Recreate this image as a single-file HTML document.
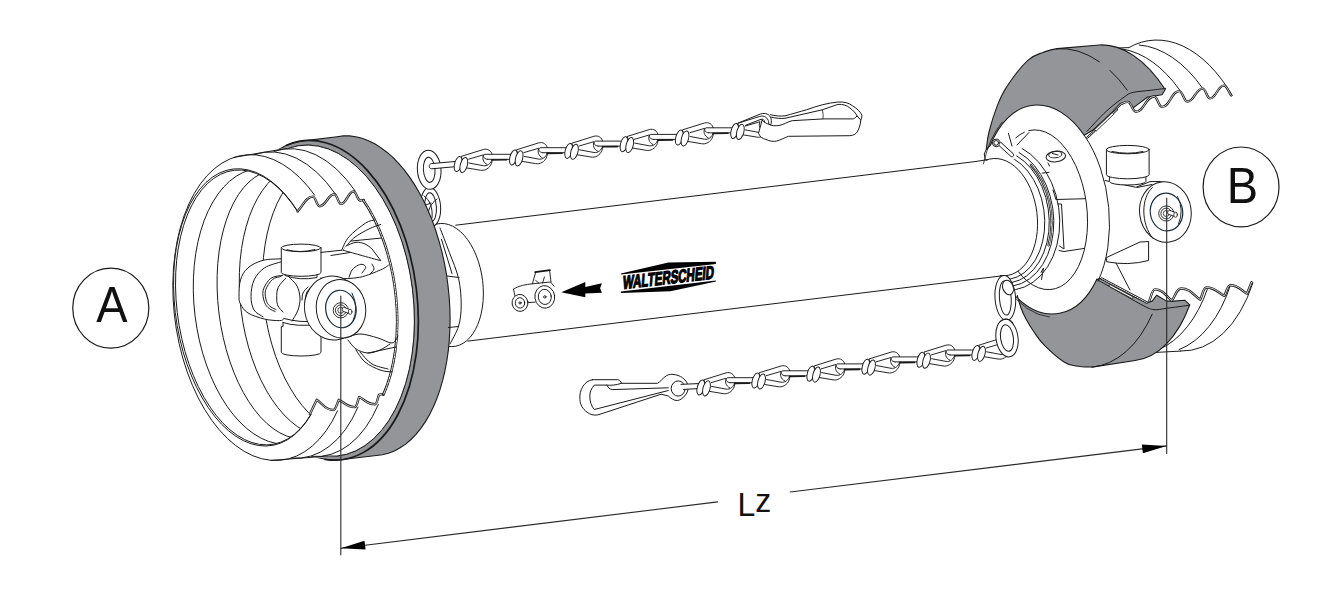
<!DOCTYPE html>
<html><head><meta charset="utf-8"><title>Lz</title>
<style>html,body{margin:0;padding:0;background:#fff}svg{display:block}text{font-family:"Liberation Sans",sans-serif}</style>
</head><body>
<svg width="1330" height="610" viewBox="0 0 1330 610">
<rect width="1330" height="610" fill="#fff"/>
<g fill="none" stroke="#1a1a1a" stroke-width="1" stroke-linecap="round" stroke-linejoin="round">
<path d="M433.4,225.1A36.0,62.0 -7.0 1 1 448.2,346.4" fill="#fff"/>
<ellipse cx="430.6" cy="207.0" rx="10.0" ry="19.5" transform="rotate(-4.0 430.6 207.0)" fill="#fff"/><ellipse cx="430.6" cy="207.0" rx="5.8" ry="14.3" transform="rotate(-4.0 430.6 207.0)" fill="#fff"/>
<path d="M424,196C430,200 433,208 432,218M437,199C431,203 427,210 428,220M423,206L431,203" />
<ellipse cx="429.2" cy="169.8" rx="11.8" ry="19.6" transform="rotate(-4.0 429.2 169.8)" fill="#fff"/><ellipse cx="429.2" cy="169.8" rx="5.8" ry="12.6" transform="rotate(-4.0 429.2 169.8)" fill="#fff"/>
<path d="M224.6,279.5L224.8,268.8L225.6,258.3L226.8,247.9L228.4,237.8L230.5,228.1L233.0,218.6L236.0,209.6L239.3,201.0L243.1,192.9L244.6,189.6L248.8,181.8L253.3,174.6L258.1,168.1L263.3,162.1L268.8,156.8L274.5,152.3L280.4,148.4L286.6,145.3L292.9,143.0L299.4,141.4L337.1,136.7L343.3,135.9L349.5,135.9L355.8,136.7L362.1,138.3L368.4,140.7L374.7,143.8L380.8,147.6L386.9,152.2L392.9,157.4L398.6,163.3L404.2,169.9L409.6,177.1L414.7,184.9L419.6,193.2L424.2,202.0L428.4,211.3L432.4,220.9L435.9,231.0L439.1,241.3L441.9,251.9L444.4,262.8L446.4,273.8L447.9,284.9L449.1,296.0L449.8,307.2L450.1,318.3L449.9,329.3L449.3,340.1L448.3,350.7L446.8,361.0L444.9,371.0L442.6,380.7L439.9,389.9L436.8,398.7L433.3,407.0L429.5,414.7L425.3,421.9L420.8,428.4L416.0,434.3L411.0,439.5L405.7,444.1L400.1,447.8L394.4,450.9L388.5,453.2L382.4,454.7L376.3,455.5L338.5,460.0L331.8,460.1L325.1,459.3L318.4,457.8L311.7,455.5L305.1,452.4L298.5,448.6L292.1,444.1L285.8,438.9L279.6,433.1L273.7,426.5L271.4,423.6L265.8,416.7L260.5,409.2L255.4,401.1L250.7,392.6L246.3,383.6L242.3,374.2L238.6,364.5L235.3,354.4L232.5,344.1L230.1,333.6L228.1,322.9L226.5,312.1L225.4,301.2L224.8,290.4Z" fill="#939598" stroke-width="1.1"/>
<ellipse cx="319.4" cy="300.7" rx="93.6" ry="156.4" transform="rotate(-7.0 319.4 300.7)" fill="#fff" stroke-width="0.9"/>
<path d="M286.6,145.3A94.9,160.6 -7.0 1 1 325.1,459.3" stroke-width="1.7"/>
<path d="M172.8,286.4L173.0,275.9L173.7,265.6L174.8,255.4L176.3,245.5L178.2,235.9L180.6,226.6L183.4,217.8L186.5,209.3L190.1,201.4L193.9,194.0L198.2,187.1L202.7,180.8L207.5,175.1L212.6,170.1L218.0,165.7L223.5,162.1L229.3,159.1L235.2,156.9L241.3,155.4L297.1,145.9L303.6,145.1L310.1,145.1L316.8,145.8L323.4,147.3L330.0,149.5L336.5,152.4L343.0,156.1L349.3,160.5L355.6,165.6L361.6,171.3L367.4,177.7L373.0,184.6L378.3,192.1L383.4,200.2L388.1,208.7L392.5,217.7L396.5,227.1L400.2,236.8L403.4,246.9L406.3,257.2L408.8,267.8L410.8,278.4L412.3,289.2L413.4,300.1L414.1,311.0L414.2,321.8L414.0,332.5L413.2,343.0L412.0,353.4L410.4,363.5L408.3,373.2L405.8,382.7L402.8,391.7L399.5,400.3L395.7,408.4L391.6,416.0L387.1,423.0L382.4,429.4L377.3,435.2L371.9,440.3L366.2,444.8L360.4,448.5L354.3,451.6L348.1,453.9L341.7,455.4L335.2,456.2L278.8,460.5L272.5,460.5L266.2,459.8L259.9,458.3L253.6,456.1L247.4,453.2L241.2,449.5L235.2,445.2L229.2,440.2L223.5,434.5L217.9,428.3L212.6,421.4L207.5,414.0L202.7,406.1L198.1,397.7L193.9,388.8L190.0,379.6L186.5,370.0L183.3,360.1L180.6,349.9L178.2,339.6L176.3,329.0L174.8,318.4L173.7,307.7L173.0,297.1Z" fill="#fff" stroke="none"/>
<path d="M289.2,148.0A93.6,156.4 -7.0 1 1 327.0,456.1" stroke-width="1.0"/>
<path d="M233.7,157.4L289.2,148.0" />
<path d="M270.9,460.4L327.0,456.1" />
<path d="M337.5,410.9A89.0,153.8 -7.0 1 1 314.7,195.2" />
<path d="M310.7,415.1A76.4,139.7 -8.0 1 1 297.6,211.1" fill="#fff"/>
<path d="M311.0,414.2A75.4,138.5 -8.0 1 1 297.9,212.0" />
<path d="M254.3,154.6A88.0,154.0 -7.0 0 1 335.3,193.9" />
<path d="M358.0,407.1A88.0,154.0 -7.0 0 1 291.6,458.1" />
<path d="M274.1,151.4A88.0,154.8 -7.0 0 1 355.0,190.7" />
<path d="M378.3,404.5A88.0,154.8 -7.0 0 1 311.6,456.4" />
<clipPath id="cE2"><ellipse cx="252.6" cy="307.4" rx="75.4" ry="138.5" transform="rotate(-8.0 252.6 307.4)" /></clipPath>
<g clip-path="url(#cE2)">
<path d="M283.0,444.2A78.5,138.6 -7.0 0 1 249.4,170.1" />
<path d="M299.5,438.8A70.7,135.2 -7.0 0 1 266.7,171.4" />
<path d="M324.9,436.7A74.1,136.2 -7.0 0 1 291.9,167.3" />
<path d="M351.0,434.7A77.3,137.4 -7.0 0 1 317.6,163.0" />
</g>
<path d="M297.5,211.3C302.6,206.4 305.9,196.6 312.8,196.6C315.9,196.6 316.5,206.2 319.6,206.2C326.2,206.2 327.7,194.3 334.3,194.3C337.4,194.3 338.0,203.9 341.1,203.9C346.7,203.9 347.9,191.5 353.5,191.5C356.6,191.5 357.2,200.5 360.3,200.5C361.8,200.5 362.6,200.2 363.7,200.0" stroke-width="2.4"/><path d="M297.5,211.3C302.6,206.4 305.9,196.6 312.8,196.6C315.9,196.6 316.5,206.2 319.6,206.2C326.2,206.2 327.7,194.3 334.3,194.3C337.4,194.3 338.0,203.9 341.1,203.9C346.7,203.9 347.9,191.5 353.5,191.5C356.6,191.5 357.2,200.5 360.3,200.5C361.8,200.5 362.6,200.2 363.7,200.0" stroke-width="0.8" stroke="#fff"/>
<path d="M310.0,413.9C312.3,409.2 314.5,404.5 316.8,399.8C322.3,403.2 325.0,410.0 333.2,410.0C336.0,410.0 336.9,403.2 338.8,399.8C344.1,402.2 346.8,407.1 354.7,407.1C356.9,407.1 357.7,400.4 359.2,397.0C364.5,399.4 367.1,404.3 375.0,404.3C377.0,404.3 377.7,397.9 379.0,394.7C380.3,394.5 381.7,394.2 383.0,394.0" stroke-width="2.4"/><path d="M310.0,413.9C312.3,409.2 314.5,404.5 316.8,399.8C322.3,403.2 325.0,410.0 333.2,410.0C336.0,410.0 336.9,403.2 338.8,399.8C344.1,402.2 346.8,407.1 354.7,407.1C356.9,407.1 357.7,400.4 359.2,397.0C364.5,399.4 367.1,404.3 375.0,404.3C377.0,404.3 377.7,397.9 379.0,394.7C380.3,394.5 381.7,394.2 383.0,394.0" stroke-width="0.8" stroke="#fff"/>
<path d="M363.5,200.5A75.4,137.0 -7.0 0 1 383.4,394.6" stroke-width="2.6"/><path d="M363.5,200.5A75.4,137.0 -7.0 0 1 383.4,394.6" stroke-width="1.0" stroke="#fff" stroke-dasharray="1.6 1.1"/>
<path d="M1119.6,47.9L1128.8,47.6A92.0,156.4 -7.0 0 1 1232.2,95.5L1231.2,95.4L1223.7,85.6L1210.1,98.4L1202.6,88.6L1187.3,101.5L1179.2,91.1L1162.1,106.9L1153.9,96.5Z" fill="#fff" stroke="none"/>
<path d="M1156.2,352.4L1180.4,351.1A92.0,156.4 -7.0 0 0 1252.9,282.9L1251.6,282.3L1247.0,293.6L1230.4,285.3L1224.4,295.8L1206.3,287.5L1200.3,299.6L1181.1,288.5L1172.0,300.6Z" fill="#fff" stroke="none"/>
<path d="M1119.6,47.9L1128.8,47.6" />
<path d="M1156.2,352.4L1180.4,351.1" />
<path d="M1128.8,47.6A92.0,156.4 -7.0 0 1 1232.2,95.5" />
<path d="M1139.2,45.0A92.0,155.0 -7.0 0 1 1202.7,88.4" />
<path d="M1122.6,49.0A92.2,153.7 -7.0 0 1 1179.7,90.0" />
<path d="M1252.9,282.9A92.0,156.4 -7.0 0 1 1180.4,351.1" />
<path d="M1230.4,285.3A92.0,155.0 -7.0 0 1 1179.1,349.6" />
<path d="M1207.5,288.7A92.2,153.7 -7.0 0 1 1159.3,349.3" />
<ellipse cx="1045.5" cy="210.3" rx="63.3" ry="105.7" transform="rotate(-7.0 1045.5 210.3)" fill="#fff" stroke="none"/>
<path d="M986.3,149.3C986.7,146.4 987.1,139.4 989.0,132.0C990.8,124.6 994.6,112.6 997.6,104.9C1000.6,97.2 1002.2,93.4 1007.2,86.0C1012.2,78.6 1021.8,66.0 1027.8,60.4C1033.8,54.8 1038.1,54.4 1043.0,52.4C1047.9,50.4 1054.7,49.2 1057.0,48.6L1099.3,45.0A84.9,158.8 -7.0 0 1 1165.2,89.5L1162,94.7L1151.2,96.5L1147.6,97L1136.8,105.1L1133.2,107.8L1127.8,101.5L1120.5,104.2L1114.2,110.5L1092.6,130.3L1084.2,135.2A63.3,105.7 -7.0 0 0 990.4,145.3Z" fill="#939598" stroke-width="1.1"/>
<path d="M1165.7,88.4C1163.3,88.7 1156.6,89.5 1151.2,90.2C1145.8,90.9 1137.7,91.3 1133.2,92.4C1128.7,93.5 1128.7,93.8 1124.2,97.0C1119.7,100.2 1112.3,105.7 1106.1,111.4C1099.9,117.1 1090.3,127.9 1087.1,131.2" />
<path d="M1056.3,48.8A92.6,160.2 -7.0 0 1 1099.4,61.8" />
<path d="M1110.0,70.4A92.6,160.2 -7.0 0 1 1127.3,90.2" />
<path d="M1017.3,295.6C1017.9,297.7 1019.5,304.0 1021.0,308.0C1022.5,312.0 1024.2,315.8 1026.4,319.8C1028.6,323.8 1031.0,327.7 1034.0,332.0C1037.0,336.3 1039.5,340.4 1044.5,345.4C1049.5,350.4 1058.8,358.6 1064.0,362.0C1069.2,365.4 1071.3,365.1 1076.0,366.0C1080.7,366.9 1089.4,367.0 1092.1,367.1L1135.1,360.5A84.9,158.8 -7.0 0 0 1189.8,304.8L1184.7,300.2L1173.9,301.1L1166.6,301.1L1156.7,295.2L1152.2,301.1L1146.8,302.5L1134.2,296.6L1108.9,282.6L1101.7,278.5L1096.7,279.4A63.3,105.7 -7.0 0 1 1016.7,297.4Z" fill="#939598" stroke-width="1.1"/>
<path d="M1096.7,279.4C1100.6,281.6 1112.2,288.1 1120.0,292.5C1127.8,296.9 1137.5,302.7 1143.2,305.6C1148.9,308.5 1150.1,309.2 1154.0,309.7C1157.9,310.1 1160.6,309.1 1166.6,308.3C1172.5,307.6 1185.8,305.7 1189.7,305.2" />
<path d="M1152.2,314.2A92.6,160.2 -7.0 0 1 1092.1,367.1" />
<path d="M1049.5,317.0A64.8,107.4 -7.0 0 1 1006.5,287.5" stroke-width="0.8"/>
<path d="M983.4,163.9A64.6,107.2 -7.0 0 1 1002.1,122.1" stroke-width="0.8"/>
<path d="M986.3,149.3L984.2,154L985.3,159.6" />
<path d="M1084.2,135.2A63.3,105.7 -7.0 0 1 1098.0,281.2" />
<path d="M1114.2,110.5C1116.3,108.4 1118.4,106.3 1120.5,104.2C1122.9,103.4 1124.5,101.9 1127.8,101.9C1131.4,101.9 1132.3,111.8 1135.9,111.8C1144.0,111.8 1145.8,96.5 1153.9,96.5C1157.6,96.5 1158.4,106.9 1162.1,106.9C1169.8,106.9 1171.5,91.1 1179.2,91.1C1182.8,91.1 1183.7,101.5 1187.3,101.5C1194.2,101.5 1195.7,88.6 1202.6,88.6C1206.0,88.6 1206.7,98.4 1210.1,98.4C1216.2,98.4 1217.6,85.6 1223.7,85.6C1227.1,85.6 1228.7,92.1 1231.2,95.4" stroke-width="2.4"/><path d="M1114.2,110.5C1116.3,108.4 1118.4,106.3 1120.5,104.2C1122.9,103.4 1124.5,101.9 1127.8,101.9C1131.4,101.9 1132.3,111.8 1135.9,111.8C1144.0,111.8 1145.8,96.5 1153.9,96.5C1157.6,96.5 1158.4,106.9 1162.1,106.9C1169.8,106.9 1171.5,91.1 1179.2,91.1C1182.8,91.1 1183.7,101.5 1187.3,101.5C1194.2,101.5 1195.7,88.6 1202.6,88.6C1206.0,88.6 1206.7,98.4 1210.1,98.4C1216.2,98.4 1217.6,85.6 1223.7,85.6C1227.1,85.6 1228.7,92.1 1231.2,95.4" stroke-width="0.8" stroke="#fff"/>
<path d="M1149.0,301.5C1151.0,297.5 1152.0,289.4 1155.0,289.4C1163.5,289.4 1166.3,296.9 1172.0,300.6C1175.0,296.6 1176.5,288.5 1181.1,288.5C1190.7,288.5 1193.9,295.9 1200.3,299.6C1202.3,295.6 1203.3,287.5 1206.3,287.5C1215.3,287.5 1218.4,293.0 1224.4,295.8C1226.4,292.3 1227.4,285.3 1230.4,285.3C1238.7,285.3 1241.5,290.8 1247.0,293.6C1248.5,289.8 1250.1,286.1 1251.6,282.3" stroke-width="2.4"/><path d="M1149.0,301.5C1151.0,297.5 1152.0,289.4 1155.0,289.4C1163.5,289.4 1166.3,296.9 1172.0,300.6C1175.0,296.6 1176.5,288.5 1181.1,288.5C1190.7,288.5 1193.9,295.9 1200.3,299.6C1202.3,295.6 1203.3,287.5 1206.3,287.5C1215.3,287.5 1218.4,293.0 1224.4,295.8C1226.4,292.3 1227.4,285.3 1230.4,285.3C1238.7,285.3 1241.5,290.8 1247.0,293.6C1248.5,289.8 1250.1,286.1 1251.6,282.3" stroke-width="0.8" stroke="#fff"/>
<path d="M1087.5,137.5L1117,109.5" stroke-width="2.4"/><path d="M1087.5,137.5L1117,109.5" stroke-width="0.9" stroke="#fff" stroke-dasharray="1.4 1.1"/>
<path d="M1094.8,129.4L1112.3,112.6L1113.8,114.2L1096.3,131Z" fill="#fff" stroke-width="0.8"/>
<path d="M1101.7,278.6L1147,302.6" stroke-width="2.4"/><path d="M1101.7,278.6L1147,302.6" stroke-width="0.9" stroke="#fff" stroke-dasharray="1.4 1.1"/>
<path d="M1110,284.6L1133.2,297L1132.3,298.7L1109.1,286.3Z" fill="#fff" stroke-width="0.8"/>
<path d="M1015.8,137.9A45.1,80.4 -7.0 0 1 1024.3,132.2" />
<path d="M1028.8,130.6A45.1,80.4 -7.0 1 1 1017.0,270.1" />
<path d="M986.1,160.2A37.6,59.0 -7.0 1 1 1000.3,275.6" fill="#fff"/>
<path d="M1014.5,159.3A43.6,63.0 -7.0 0 1 1002.6,279.6" />
<path d="M1016.7,155.9A47.0,66.5 -7.0 0 1 1003.5,283.0" />
<path d="M1019.0,152.5A50.4,70.0 -7.0 0 1 1004.5,286.4" />
<path d="M1022.1,148.5A54.8,74.0 -7.0 0 1 1005.9,290.2" />
<path d="M1030.8,164.9A48.7,68.0 -7.0 0 1 1048.5,245.4" stroke-width="2.2"/><path d="M1030.8,164.9A48.7,68.0 -7.0 0 1 1048.5,245.4" stroke-width="0.8" stroke="#fff" stroke-dasharray="1.3 1"/>
<path d="M455.8,225.2L975,161.6L988.0,159.6" />
<path d="M467.9,341.1L1002.3,275.8" />
<path d="M1107,257.3L1140,242L1148.6,241.5V260.5Q1128,266 1107,261.8Z" fill="#fff"/>
<path d="M1116,263L1130,290" />
<path d="M1104.9,180.5L1135.8,187.3L1150,181.6Q1160,180.5 1170,183.5" fill="#fff"/>
<path d="M1137,187.5L1152,184.5" />
<path d="M1109.4,176.0V181.5A18.2,3.5 0 0 0 1145.9,181.5V176.0Z" fill="#fff"/>
<path d="M1106.4,149.6V174.6A21.3,4.2 0 0 0 1149.1,174.6V149.6Z" fill="#fff"/><ellipse cx="1127.8" cy="149.6" rx="21.3" ry="4.2" fill="#fff"/>
<path d="M1112,151.5Q1128,155 1143,151.5" />
<ellipse cx="1165.4" cy="212" rx="25.8" ry="30.4" transform="rotate(-8 1165.4 212)" fill="#fff"/>
<path d="M1152.5,187.5C1141,197 1140.5,224 1153,238.5" />
<ellipse cx="1166.5" cy="212" rx="16.2" ry="18.9" transform="rotate(-8 1166.5 212)" stroke="#1d2d38" stroke-width="1.2"/>
<path d="M1177.5,196.5Q1184.5,210 1178.5,224" stroke="#1d2d38"/>
<circle cx="1166.3" cy="213.5" r="7.6" stroke-width="0.9"/><circle cx="1166.3" cy="213.5" r="5.4" stroke-width="0.9"/><circle cx="1166.3" cy="213.5" r="3" stroke-width="0.8"/>
<path d="M1169.5,212.5L1175,214.5" stroke-width="4.6" stroke="#1a1a1a"/>
<path d="M1169.5,212.5L1175,214.5" stroke-width="3" stroke="#fff"/>
<ellipse cx="1175.6" cy="214.8" rx="1.8" ry="2.6" fill="#fff" stroke-width="0.8"/>
<path d="M341.6,250.2C342.9,247.9 345.1,241.1 349.1,236.6C353.1,232.1 361.4,225.8 365.7,223.0C370.0,220.2 373.3,220.5 374.8,220.0" />
<path d="M343.1,250.2C344.9,248.2 349.4,241.6 353.7,238.1C358.0,234.6 364.3,231.3 368.8,229.0C373.3,226.7 378.8,225.2 380.8,224.5" />
<path d="M350.7,241.1L380.8,238.1" />
<path d="M343.1,250.2C345.9,251.0 353.7,253.2 360.0,255.0C366.3,256.8 377.3,259.8 380.8,260.7L371.8,248.7C370.7,247.9 367.6,245.1 365.0,244.0C362.4,242.9 359.2,242.0 356.0,242.3C352.8,242.6 347.7,245.4 346.0,246.0" fill="#fff"/>
<path d="M320.5,278.1C323.0,278.2 329.1,278.9 335.6,278.8C342.1,278.7 352.2,278.8 359.7,277.3C367.2,275.8 376.0,271.8 380.8,269.8C385.6,267.8 387.1,266.0 388.4,265.2" />
<path d="M349.1,277.3C349.6,276.1 350.5,272.0 352.0,270.0C353.5,268.0 356.4,266.1 358.2,265.2C360.0,264.3 361.8,264.1 363.0,264.5C364.2,264.9 365.9,266.1 365.7,267.5C365.5,268.9 362.6,272.1 362.0,273.0" />
<path d="M372.0,264.0C372.3,264.8 374.3,267.3 374.0,269.0C373.7,270.7 370.7,273.2 370.0,274.0" />
<path d="M346.0,338.0C348.3,337.3 354.7,334.0 360.0,334.0C365.3,334.0 372.7,336.5 378.0,338.0C383.3,339.5 388.7,343.3 392.0,343.0C395.3,342.7 397.0,337.2 398.0,336.0" />
<path d="M348.0,340.0C349.3,341.5 352.7,346.8 356.0,349.0C359.3,351.2 364.0,352.8 368.0,353.0C372.0,353.2 376.3,351.5 380.0,350.0C383.7,348.5 388.3,345.0 390.0,344.0" />
<path d="M356.0,350.0C357.5,352.0 361.0,358.7 365.0,362.0C369.0,365.3 375.5,368.3 380.0,370.0C384.5,371.7 390.0,371.7 392.0,372.0" />
<path d="M360.0,352.0C362.0,354.0 367.3,361.2 372.0,364.0C376.7,366.8 385.3,368.2 388.0,369.0" />
<path d="M368,353L396,347" />
<path d="M283.5,319.0C282.9,319.3 282.8,320.6 279.7,320.6C276.6,320.6 269.9,320.4 264.6,319.1C259.3,317.8 252.0,315.5 248.0,313.0C244.0,310.5 242.0,306.8 240.5,304.0C239.0,301.2 239.0,300.5 239.0,296.5C239.0,292.5 239.0,284.7 240.5,279.9C242.0,275.1 244.2,271.1 248.0,267.8C251.8,264.5 257.6,261.8 263.1,260.3C268.6,258.8 278.2,259.1 281.2,258.8" fill="#fff"/>
<path d="M281.2,261.8C278.4,262.8 269.1,264.8 264.6,267.8C260.1,270.8 256.4,275.1 254.1,279.9C251.8,284.7 251.0,291.5 251.0,296.5C251.0,301.5 252.0,306.6 254.0,310.0C256.0,313.4 261.6,315.7 263.1,316.8" />
<path d="M282.7,275.3C280.7,275.8 274.0,275.9 270.7,278.4C267.4,280.9 264.1,286.4 263.1,290.4C262.1,294.4 263.6,299.5 264.6,302.5C265.6,305.5 267.4,307.0 269.2,308.5C271.0,310.0 274.2,311.0 275.2,311.5" />
<path d="M281.0,276.5C279.6,277.0 275.1,277.2 272.5,279.5C269.9,281.8 266.5,286.7 265.5,290.4C264.5,294.1 265.7,298.7 266.6,301.5C267.5,304.3 269.4,305.7 271.0,307.0C272.6,308.3 275.2,309.1 276.0,309.5" />
<path d="M285.7,278.4C284.4,279.9 279.7,284.1 278.2,287.4C276.7,290.7 276.7,294.9 276.7,298.0C276.7,301.1 276.9,303.7 278.0,306.0C279.1,308.3 282.2,311.0 283.0,312.0" />
<path d="M289.0,277.0C290.3,278.5 295.2,282.5 297.0,286.0C298.8,289.5 299.8,294.0 300.0,298.0C300.2,302.0 299.3,306.2 298.0,310.0C296.7,313.8 293.0,319.2 292.0,321.0" fill="#fff"/>
<path d="M308.0,287.0C307.2,288.0 304.0,290.8 303.0,293.0C302.0,295.2 302.2,298.8 302.0,300.0" />
<path d="M316.0,283.0C314.5,284.5 308.8,288.7 307.0,292.0C305.2,295.3 305.3,301.2 305.0,303.0" />
<path d="M281.3,327V352.4A19.85,3.6 0 0 0 321,352.4V330" fill="#fff"/>
<path d="M283,322.5Q296,327 318,324.5" />
<path d="M283,322.5L283,326M281.3,327L283,326" />
<path d="M284,318.5Q300,323 316,321" />
<path d="M281.3,247.9V272.5A19.8,3.8 0 0 0 321.0,272.5V247.9Z" fill="#fff"/><ellipse cx="301.1" cy="247.9" rx="19.8" ry="3.8" fill="#fff"/>
<path d="M287,249.8Q300,253.5 315,249.5" />
<path d="M285,275.5Q300,281 317,277.5L317,275" />
<path d="M321,252.4L341.6,250.2" />
<path d="M331,255.5L350,252.5" />
<ellipse cx="333" cy="308" rx="28.5" ry="32" transform="rotate(-8 333 308)" fill="#fff"/>
<ellipse cx="341" cy="308.8" rx="24.7" ry="29.3" transform="rotate(-8 341 308.8)" fill="#fff"/>
<ellipse cx="340.9" cy="309" rx="15.2" ry="18.8" transform="rotate(-8 340.9 309)" stroke="#1d2d38" stroke-width="1.2"/>
<path d="M352,293Q359,307 353,321" stroke="#1d2d38"/>
<circle cx="340.8" cy="310.3" r="7.6" stroke-width="0.9"/><circle cx="340.8" cy="310.3" r="5.4" stroke-width="0.9"/><circle cx="340.8" cy="310.3" r="3" stroke-width="0.8"/>
<path d="M344,309.5L349.5,311.5" stroke-width="4.6" stroke="#1a1a1a"/>
<path d="M344,309.5L349.5,311.5" stroke-width="3" stroke="#fff"/>
<ellipse cx="350.2" cy="311.8" rx="1.8" ry="2.6" fill="#fff" stroke-width="0.8"/>
<path d="M458.5,161.2L431.5,163.6C428.3,164.2 428.5,168.6 431.8,168.8L458.5,166.4" fill="#fff"/>
<g transform="translate(460.8 164.4)" stroke-width="0.95"><path d="M0.7,-8.1L22.5,-14.9C27,-16.2 30.6,-13.5 31.3,-9.5C32.4,-3 30,2.5 26,4.6C23.8,6 21.5,6.2 19.5,5.8L5,3.4Z" fill="#fff"/><path d="M7.8,-5.2L22.8,-9.6C21.2,-6.5 22,-2 26.2,0M8.1,-1.4L22.5,1.3C26.5,2 30,-0.8 31.3,-5" /><path d="M26,-5.2L52.0,-5.2L52.0,-10L24,-10C22,-8.5 23,-5.6 26,-5.2Z" fill="#fff" stroke="none"/><path d="M26.6,-5.1L52.0,-5.1M52.0,-10.1L24,-10.1C21.6,-8.6 22.6,-5.5 26.6,-5.1" /><path d="M31,-4.4L46,-4.6" stroke-width="1.6"/><ellipse cx="-2.7" cy="-0.3" rx="3.5" ry="7.7" transform="rotate(15 -2.7 -0.3)" fill="#fff"/><ellipse cx="3" cy="0.6" rx="3.5" ry="7.8" transform="rotate(15 3 0.6)" fill="#fff"/></g>
<g transform="translate(516.1 157.8)" stroke-width="0.95"><path d="M0.7,-8.1L22.5,-14.9C27,-16.2 30.6,-13.5 31.3,-9.5C32.4,-3 30,2.5 26,4.6C23.8,6 21.5,6.2 19.5,5.8L5,3.4Z" fill="#fff"/><path d="M7.8,-5.2L22.8,-9.6C21.2,-6.5 22,-2 26.2,0M8.1,-1.4L22.5,1.3C26.5,2 30,-0.8 31.3,-5" /><path d="M26,-5.2L52.0,-5.2L52.0,-10L24,-10C22,-8.5 23,-5.6 26,-5.2Z" fill="#fff" stroke="none"/><path d="M26.6,-5.1L52.0,-5.1M52.0,-10.1L24,-10.1C21.6,-8.6 22.6,-5.5 26.6,-5.1" /><path d="M31,-4.4L46,-4.6" stroke-width="1.6"/><ellipse cx="-2.7" cy="-0.3" rx="3.5" ry="7.7" transform="rotate(15 -2.7 -0.3)" fill="#fff"/><ellipse cx="3" cy="0.6" rx="3.5" ry="7.8" transform="rotate(15 3 0.6)" fill="#fff"/></g>
<g transform="translate(571.4 151.2)" stroke-width="0.95"><path d="M0.7,-8.1L22.5,-14.9C27,-16.2 30.6,-13.5 31.3,-9.5C32.4,-3 30,2.5 26,4.6C23.8,6 21.5,6.2 19.5,5.8L5,3.4Z" fill="#fff"/><path d="M7.8,-5.2L22.8,-9.6C21.2,-6.5 22,-2 26.2,0M8.1,-1.4L22.5,1.3C26.5,2 30,-0.8 31.3,-5" /><path d="M26,-5.2L52.0,-5.2L52.0,-10L24,-10C22,-8.5 23,-5.6 26,-5.2Z" fill="#fff" stroke="none"/><path d="M26.6,-5.1L52.0,-5.1M52.0,-10.1L24,-10.1C21.6,-8.6 22.6,-5.5 26.6,-5.1" /><path d="M31,-4.4L46,-4.6" stroke-width="1.6"/><ellipse cx="-2.7" cy="-0.3" rx="3.5" ry="7.7" transform="rotate(15 -2.7 -0.3)" fill="#fff"/><ellipse cx="3" cy="0.6" rx="3.5" ry="7.8" transform="rotate(15 3 0.6)" fill="#fff"/></g>
<g transform="translate(626.7 144.5)" stroke-width="0.95"><path d="M0.7,-8.1L22.5,-14.9C27,-16.2 30.6,-13.5 31.3,-9.5C32.4,-3 30,2.5 26,4.6C23.8,6 21.5,6.2 19.5,5.8L5,3.4Z" fill="#fff"/><path d="M7.8,-5.2L22.8,-9.6C21.2,-6.5 22,-2 26.2,0M8.1,-1.4L22.5,1.3C26.5,2 30,-0.8 31.3,-5" /><path d="M26,-5.2L52.0,-5.2L52.0,-10L24,-10C22,-8.5 23,-5.6 26,-5.2Z" fill="#fff" stroke="none"/><path d="M26.6,-5.1L52.0,-5.1M52.0,-10.1L24,-10.1C21.6,-8.6 22.6,-5.5 26.6,-5.1" /><path d="M31,-4.4L46,-4.6" stroke-width="1.6"/><ellipse cx="-2.7" cy="-0.3" rx="3.5" ry="7.7" transform="rotate(15 -2.7 -0.3)" fill="#fff"/><ellipse cx="3" cy="0.6" rx="3.5" ry="7.8" transform="rotate(15 3 0.6)" fill="#fff"/></g>
<g transform="translate(682.0 137.9)" stroke-width="0.95"><path d="M0.7,-8.1L22.5,-14.9C27,-16.2 30.6,-13.5 31.3,-9.5C32.4,-3 30,2.5 26,4.6C23.8,6 21.5,6.2 19.5,5.8L5,3.4Z" fill="#fff"/><path d="M7.8,-5.2L22.8,-9.6C21.2,-6.5 22,-2 26.2,0M8.1,-1.4L22.5,1.3C26.5,2 30,-0.8 31.3,-5" /><path d="M26,-5.2L52.0,-5.2L52.0,-10L24,-10C22,-8.5 23,-5.6 26,-5.2Z" fill="#fff" stroke="none"/><path d="M26.6,-5.1L52.0,-5.1M52.0,-10.1L24,-10.1C21.6,-8.6 22.6,-5.5 26.6,-5.1" /><path d="M31,-4.4L46,-4.6" stroke-width="1.6"/><ellipse cx="-2.7" cy="-0.3" rx="3.5" ry="7.7" transform="rotate(15 -2.7 -0.3)" fill="#fff"/><ellipse cx="3" cy="0.6" rx="3.5" ry="7.8" transform="rotate(15 3 0.6)" fill="#fff"/></g>
<g transform="translate(737.3 131.3)" stroke-width="0.95"><path d="M0.7,-8.1L22.5,-14.9C27,-16.2 30.6,-13.5 31.3,-9.5C32.4,-3 30,2.5 26,4.6C23.8,6 21.5,6.2 19.5,5.8L5,3.4Z" fill="#fff"/><path d="M7.8,-5.2L22.8,-9.6C21.2,-6.5 22,-2 26.2,0M8.1,-1.4L22.5,1.3C26.5,2 30,-0.8 31.3,-5" /><ellipse cx="-2.7" cy="-0.3" rx="3.5" ry="7.7" transform="rotate(15 -2.7 -0.3)" fill="#fff"/><ellipse cx="3" cy="0.6" rx="3.5" ry="7.8" transform="rotate(15 3 0.6)" fill="#fff"/></g>
<path d="M762.1,120.1L758.5,133.3C760,137 763,139 765.7,139.3C770,141.5 774,141.6 776.5,141.1C781,140 785,137.3 788.6,136.3L849.9,135.7C854,135.3 856.3,133.6 857.1,132.1C859.5,128 860.5,124 860.8,120.1L857.1,115.9C855,118.4 853.5,118.9 852.3,118.9L823.5,118.9L792.2,120.7C788,121.5 783,125 778.9,125.5C775,126 772,125.8 770.5,124.9C766,123.5 763.5,122 762.1,120.1Z" fill="#fff"/>
<path d="M770.5,114.7C775,116 780,116.3 785,115.9C792,114 800,111.5 806.6,109.8C818,105.5 828,103 837.9,102C844,101.6 849,103 852.3,105.6C857,108.5 860.5,112 862,115.3C862,117 861.5,119 860.8,120.1" />
<path d="M771.5,117.2C776,118.3 781,118.7 785,118.3L822.3,109.8L837.9,104.4C843,104 847,105.5 849.9,108C853.5,110.5 856,113.5 857.1,115.9" />
<path d="M822.3,109.8C823.3,113 823.3,116 822.9,118.9" stroke-width="0.8"/>
<path d="M738,123.1L760.5,114C765.5,112.4 769.8,114.3 771,118.5C771.6,121 771.4,123.2 770.6,125" fill="none"/>
<path d="M745.5,125.3L761,119.3C763,118.8 764.5,120 764.6,121.6" />
<path d="M592.5,379.7L617.8,379.7C620,380.3 621.2,381.5 621.4,383.3L657.5,383.3C660.5,381.5 662.5,378.8 664.7,377C667,375 669.5,374.2 671.9,374.3C676.5,374.6 680,375.8 682.7,377.9C686,380.5 688,383.5 688.2,386.9C688.3,390.5 687,393.7 684.5,396C682.3,398.7 680,400.2 677.3,400.5C674,400.7 671,398.5 668.3,396L661.1,394.2L597.9,414.9C593.5,415.6 590,414.5 587.1,412.2C582.5,409 580.2,404.5 579.9,399.6C579.5,394.5 580.5,390.5 582.6,386.9C585,382.8 588.5,380.3 592.5,379.7Z" fill="#fff"/>
<path d="M606.9,385.1C608,387.8 610,389.3 612.3,389.6L668.3,387.8M621.4,383.3C616,385.3 610,385.5 606.9,385.1L594.3,385.1C591.5,388 589.8,392 589.8,396C589.8,401.5 591.5,406.5 594.3,409.5L668.3,390.5" />
<ellipse cx="678.2" cy="388.5" rx="7" ry="7.6" fill="#fff"/>
<path d="M681,384.3L702,383.4L702,388.4L683,389.4Z" fill="#fff" stroke="none"/>
<path d="M681,384.4L702,383.4M702,388.4L683.5,389.4" />
<g transform="translate(703.5 387.8)" stroke-width="0.95"><path d="M0.7,-8.1L22.5,-14.9C27,-16.2 30.6,-13.5 31.3,-9.5C32.4,-3 30,2.5 26,4.6C23.8,6 21.5,6.2 19.5,5.8L5,3.4Z" fill="#fff"/><path d="M7.8,-5.2L22.8,-9.6C21.2,-6.5 22,-2 26.2,0M8.1,-1.4L22.5,1.3C26.5,2 30,-0.8 31.3,-5" /><path d="M26,-5.2L52.0,-5.2L52.0,-10L24,-10C22,-8.5 23,-5.6 26,-5.2Z" fill="#fff" stroke="none"/><path d="M26.6,-5.1L52.0,-5.1M52.0,-10.1L24,-10.1C21.6,-8.6 22.6,-5.5 26.6,-5.1" /><path d="M31,-4.4L46,-4.6" stroke-width="1.6"/><ellipse cx="-2.7" cy="-0.3" rx="3.5" ry="7.7" transform="rotate(15 -2.7 -0.3)" fill="#fff"/><ellipse cx="3" cy="0.6" rx="3.5" ry="7.8" transform="rotate(15 3 0.6)" fill="#fff"/></g>
<g transform="translate(758.5 380.9)" stroke-width="0.95"><path d="M0.7,-8.1L22.5,-14.9C27,-16.2 30.6,-13.5 31.3,-9.5C32.4,-3 30,2.5 26,4.6C23.8,6 21.5,6.2 19.5,5.8L5,3.4Z" fill="#fff"/><path d="M7.8,-5.2L22.8,-9.6C21.2,-6.5 22,-2 26.2,0M8.1,-1.4L22.5,1.3C26.5,2 30,-0.8 31.3,-5" /><path d="M26,-5.2L52.0,-5.2L52.0,-10L24,-10C22,-8.5 23,-5.6 26,-5.2Z" fill="#fff" stroke="none"/><path d="M26.6,-5.1L52.0,-5.1M52.0,-10.1L24,-10.1C21.6,-8.6 22.6,-5.5 26.6,-5.1" /><path d="M31,-4.4L46,-4.6" stroke-width="1.6"/><ellipse cx="-2.7" cy="-0.3" rx="3.5" ry="7.7" transform="rotate(15 -2.7 -0.3)" fill="#fff"/><ellipse cx="3" cy="0.6" rx="3.5" ry="7.8" transform="rotate(15 3 0.6)" fill="#fff"/></g>
<g transform="translate(813.5 374.0)" stroke-width="0.95"><path d="M0.7,-8.1L22.5,-14.9C27,-16.2 30.6,-13.5 31.3,-9.5C32.4,-3 30,2.5 26,4.6C23.8,6 21.5,6.2 19.5,5.8L5,3.4Z" fill="#fff"/><path d="M7.8,-5.2L22.8,-9.6C21.2,-6.5 22,-2 26.2,0M8.1,-1.4L22.5,1.3C26.5,2 30,-0.8 31.3,-5" /><path d="M26,-5.2L52.0,-5.2L52.0,-10L24,-10C22,-8.5 23,-5.6 26,-5.2Z" fill="#fff" stroke="none"/><path d="M26.6,-5.1L52.0,-5.1M52.0,-10.1L24,-10.1C21.6,-8.6 22.6,-5.5 26.6,-5.1" /><path d="M31,-4.4L46,-4.6" stroke-width="1.6"/><ellipse cx="-2.7" cy="-0.3" rx="3.5" ry="7.7" transform="rotate(15 -2.7 -0.3)" fill="#fff"/><ellipse cx="3" cy="0.6" rx="3.5" ry="7.8" transform="rotate(15 3 0.6)" fill="#fff"/></g>
<g transform="translate(868.5 367.0)" stroke-width="0.95"><path d="M0.7,-8.1L22.5,-14.9C27,-16.2 30.6,-13.5 31.3,-9.5C32.4,-3 30,2.5 26,4.6C23.8,6 21.5,6.2 19.5,5.8L5,3.4Z" fill="#fff"/><path d="M7.8,-5.2L22.8,-9.6C21.2,-6.5 22,-2 26.2,0M8.1,-1.4L22.5,1.3C26.5,2 30,-0.8 31.3,-5" /><path d="M26,-5.2L52.0,-5.2L52.0,-10L24,-10C22,-8.5 23,-5.6 26,-5.2Z" fill="#fff" stroke="none"/><path d="M26.6,-5.1L52.0,-5.1M52.0,-10.1L24,-10.1C21.6,-8.6 22.6,-5.5 26.6,-5.1" /><path d="M31,-4.4L46,-4.6" stroke-width="1.6"/><ellipse cx="-2.7" cy="-0.3" rx="3.5" ry="7.7" transform="rotate(15 -2.7 -0.3)" fill="#fff"/><ellipse cx="3" cy="0.6" rx="3.5" ry="7.8" transform="rotate(15 3 0.6)" fill="#fff"/></g>
<g transform="translate(923.5 360.1)" stroke-width="0.95"><path d="M0.7,-8.1L22.5,-14.9C27,-16.2 30.6,-13.5 31.3,-9.5C32.4,-3 30,2.5 26,4.6C23.8,6 21.5,6.2 19.5,5.8L5,3.4Z" fill="#fff"/><path d="M7.8,-5.2L22.8,-9.6C21.2,-6.5 22,-2 26.2,0M8.1,-1.4L22.5,1.3C26.5,2 30,-0.8 31.3,-5" /><path d="M26,-5.2L52.0,-5.2L52.0,-10L24,-10C22,-8.5 23,-5.6 26,-5.2Z" fill="#fff" stroke="none"/><path d="M26.6,-5.1L52.0,-5.1M52.0,-10.1L24,-10.1C21.6,-8.6 22.6,-5.5 26.6,-5.1" /><path d="M31,-4.4L46,-4.6" stroke-width="1.6"/><ellipse cx="-2.7" cy="-0.3" rx="3.5" ry="7.7" transform="rotate(15 -2.7 -0.3)" fill="#fff"/><ellipse cx="3" cy="0.6" rx="3.5" ry="7.8" transform="rotate(15 3 0.6)" fill="#fff"/></g>
<g transform="translate(978.5 353.2)" stroke-width="0.95"><path d="M0.7,-8.1L22.5,-14.9C27,-16.2 30.6,-13.5 31.3,-9.5C32.4,-3 30,2.5 26,4.6C23.8,6 21.5,6.2 19.5,5.8L5,3.4Z" fill="#fff"/><path d="M7.8,-5.2L22.8,-9.6C21.2,-6.5 22,-2 26.2,0M8.1,-1.4L22.5,1.3C26.5,2 30,-0.8 31.3,-5" /><ellipse cx="-2.7" cy="-0.3" rx="3.5" ry="7.7" transform="rotate(15 -2.7 -0.3)" fill="#fff"/><ellipse cx="3" cy="0.6" rx="3.5" ry="7.8" transform="rotate(15 3 0.6)" fill="#fff"/></g>
<ellipse cx="1005.3" cy="298.0" rx="10.3" ry="22.5" transform="rotate(-4.0 1005.3 298.0)" fill="#fff"/><ellipse cx="1005.3" cy="298.0" rx="5.9" ry="17.1" transform="rotate(-4.0 1005.3 298.0)" fill="#fff"/>
<ellipse cx="1008" cy="287.5" rx="5.2" ry="7.5" transform="rotate(-20 1008 287.5)" fill="#fff"/>
<ellipse cx="1007.0" cy="338.0" rx="11.0" ry="19.0" transform="rotate(-8.0 1007.0 338.0)" fill="#fff"/><ellipse cx="1007.0" cy="338.0" rx="6.4" ry="13.4" transform="rotate(-8.0 1007.0 338.0)" fill="#fff"/>
<path d="M1000,322C1004,318 1010,318 1013,323" />
<g stroke-width="0.9" stroke="#111">
<path d="M513.5,289.2L515.3,297.6M513.5,289.2C519,285.5 526,284.5 532.4,283.8L550.5,282L554.1,286.2M532.4,283.8L535.7,272.1M549.6,270.3L551,282M544.4,277L542.6,283M535.7,280.5L539,283.2M528,302.6L535,302.2" />
<path d="M535.2,272.2L549.9,270.2" stroke-width="1.8"/>
<ellipse cx="544.8" cy="296.9" rx="9.9" ry="11.3" transform="rotate(-8 544.8 296.9)" fill="#fff"/><ellipse cx="544.8" cy="296.9" rx="6.5" ry="7.6" transform="rotate(-8 544.8 296.9)"/><circle cx="544.8" cy="296.9" r="1.2"/>
<ellipse cx="520" cy="302.9" rx="7.9" ry="8.5" transform="rotate(-8 520 302.9)" fill="#fff"/><ellipse cx="520" cy="302.9" rx="4.7" ry="5.2" transform="rotate(-8 520 302.9)"/><circle cx="520" cy="302.9" r="1.1"/>
</g>
<path d="M561.3,292.3L585.3,282L585.3,286.9L601.9,283.3L600.1,288.3L601.9,292.8L585.3,293.4L585.3,297.3Z" fill="#000" stroke="none"/>
<path d="M620.9,273.6L668.4,262.6L715.9,261.8L715.9,264.1L620.9,274.6Z" fill="#000" stroke="none"/>
<path d="M620.9,291.4L715.9,280.4L715.9,281.5L670.4,291.3L620.9,292.9Z" fill="#000" stroke="none"/>
<text transform="translate(622.6 289.0) rotate(-6.5) skewX(-11)" font-size="18.3" font-weight="bold" textLength="91.5" lengthAdjust="spacingAndGlyphs" fill="#000" stroke="#000" stroke-width="1.25" stroke-linejoin="miter">WALTERSCHEID</text>
<path d="M440.0,228.0C441.6,232.1 446.3,244.1 449.4,252.5C452.5,260.9 456.6,269.9 458.6,278.7C460.6,287.4 461.2,297.1 461.2,305.0C461.2,312.9 460.5,319.5 458.6,326.0C456.7,332.5 451.4,341.0 450.0,344.0" />
<path d="M447,276L459,277.5M448.5,327.5L458.5,326.5M441.5,239.4L452,273.5" />
<circle cx="996.2" cy="142.9" r="3.8" fill="#fff"/><circle cx="996.2" cy="142.9" r="2.4"/>
<path d="M999,145.5L1011,156.5C1013,157.5 1014.5,155.5 1013,153.5L1001,142.5" fill="#fff"/>
<path d="M1008.5,133.5L1012,146M1017,145L1029,132.5" />
<ellipse cx="1055.8" cy="156.5" rx="9.8" ry="5.3" transform="rotate(-6 1055.8 156.5)" fill="#fff"/><ellipse cx="1055.3" cy="154.6" rx="6.6" ry="3.2" transform="rotate(-6 1055.3 154.6)"/>
<path d="M1048,163L1049.5,166M1052.5,153.5L1058,155" />
<path d="M1058,204L1061.5,204L1064,249L1059.5,246" />
<path d="M1059,250.5L1064,251.5L1083.7,248.5" />
<path d="M1042.2,173.1L1049,172.3" />
<path d="M1056.5,199.5L1085.2,198.7M1056,199.5L1053,190" />
<path d="M1041,272.5L1043.5,268L1041.5,279.5" />
<g stroke="#2a2a2a" stroke-width="1.1">
<path d="M340.8,296V554.7" />
<path d="M1166.7,198V453.5" />
<path d="M340.8,548.2L717.6,501.9" />
<path d="M790.2,492L1166.6,445.9" />
</g>
<path d="M340.8,548.2L365.6,549.6L364.5,540.8Z" fill="#000" stroke="none"/>
<path d="M1166.6,445.9L1141.8,444.5L1142.9,453.3Z" fill="#000" stroke="none"/>
<ellipse cx="110.8" cy="308.1" rx="38.05" ry="40" fill="#fff" stroke-width="1.2"/>
<ellipse cx="1241.05" cy="186.9" rx="37.95" ry="39.9" fill="#fff" stroke-width="1.2"/>
<text transform="translate(111.8 321.9) scale(1 1.045)" font-size="47" text-anchor="middle" fill="#111" stroke="none">A</text>
<text transform="translate(1242.4 202.5) scale(1 1.045)" font-size="47" text-anchor="middle" fill="#111" stroke="none">B</text>
<text transform="translate(737.5 515.8) scale(1 1.05)" font-size="32" fill="#111" stroke="none">L<tspan dy="-4.0" dx="-0.1">z</tspan></text>
</g>
</svg>
</body></html>
